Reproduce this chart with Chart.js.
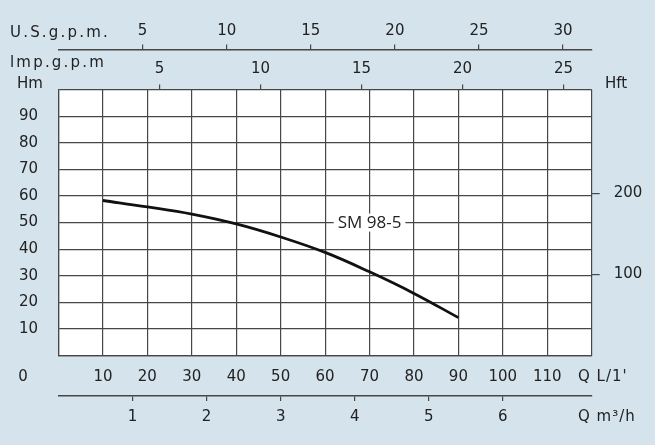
<!DOCTYPE html>
<html>
<head>
<meta charset="utf-8">
<script src="https://cdn.jsdelivr.net/npm/chart.js@4"></script>
<style>
  html, body { margin: 0; padding: 0; background: #d5e3ed; }
  #wrap { width: 655px; height: 445px; }
</style>
</head>
<body>
<div id="wrap"><canvas id="pumpChart" width="655" height="445"></canvas></div>
<script>
// pump curve
const flowLpm = [10, 20, 30, 40, 50, 60, 70, 80, 90];
const headM = [58.3, 55.9, 53.2, 49.5, 44.6, 38.8, 31.5, 23.4, 14.3];
const curveName = 'SM 98-5';

// axis tick labels
const lpmTicks = [10, 20, 30, 40, 50, 60, 70, 80, 90, 100, 110];
const hmTicks = [10, 20, 30, 40, 50, 60, 70, 80, 90];
const usGpmTicks = [5, 10, 15, 20, 25, 30];
const impGpmTicks = [5, 10, 15, 20, 25];
const m3hTicks = [1, 2, 3, 4, 5, 6];
const hftTicks = [100, 200];

const LPM_MAX = 120;
const HM_MAX = 100;
const LPM_PER_USGPM = 3.78541;
const LPM_PER_IMPGPM = 4.54609;
const LPM_PER_M3H = 1000 / 60;
const FT_PER_M = 3.28084;

const ink = '#222';
const gridColor = '#474747';
const tickFont = { family: 'DejaVu Sans', size: 15 };

const setHeight = h => scale => { scale.height = h; };
const setWidth = w => scale => { scale.width = w; };
const useTicks = list => scale => { scale.ticks = list.map(v => ({ value: v })); };

const sideAxis = (extra) => Object.assign({
    type: 'linear',
    ticks: { color: ink, font: tickFont, maxRotation: 0, autoSkip: false },
    grid: { drawOnChartArea: false, color: gridColor, lineWidth: 1.2, tickLength: 5 },
    border: { display: false }
}, extra);

const sheetText = {
    id: 'sheetText',
    beforeDraw(chart) {
        const { ctx, chartArea: a } = chart;
        ctx.save();
        ctx.fillStyle = '#fff';
        ctx.fillRect(a.left, a.top, a.right - a.left, a.bottom - a.top);
        ctx.restore();
    },
    afterDatasetsDraw(chart) {
        const { ctx, chartArea: a, scales } = chart;
        ctx.save();
        ctx.fillStyle = ink;
        ctx.textBaseline = 'middle';

        const put = (txt, x, y, font, spacing, align) => {
            ctx.font = font;
            ctx.letterSpacing = (spacing || 0) + 'px';
            ctx.textAlign = align || 'left';
            ctx.fillText(txt, x, y);
        };

        put('U.S.g.p.m.', 10, scales.us.bottom - 16.5, '15px "DejaVu Sans"', 2.2);
        put('lmp.g.p.m', 10, scales.imp.bottom - 26.5, '15px "DejaVu Sans"', 2.2);
        put('Hm', 17, a.top - 5, '15px "DejaVu Sans"', 0);
        put('Hft', 605, a.top - 5, '15px "DejaVu Sans"', 0);
        put('0', 23, a.bottom + 21, '15px "DejaVu Sans"', 0, 'center');
        put("Q L/1'", 578, a.bottom + 21, '15px "DejaVu Sans"', 1);
        put('Q m\u00b3/h', 578, scales.m3h.top + 21.5, '15px "DejaVu Sans"', 1);

        // curve name sits on the 50 m line with a white patch behind it
        const cx = scales.x.getPixelForValue(70);
        const cy = scales.y.getPixelForValue(50);
        ctx.font = '17px "Open Sans"';
        ctx.letterSpacing = '0px';
        const w = ctx.measureText(curveName).width;
        ctx.fillStyle = '#fff';
        ctx.fillRect(cx - w / 2 - 4, cy - 9, w + 8, 18);
        ctx.fillStyle = ink;
        ctx.textAlign = 'center';
        ctx.fillText(curveName, cx, cy + 1);
        ctx.restore();
    }
};

new Chart(document.getElementById('pumpChart'), {
    type: 'line',
    data: {
        datasets: [{
            label: curveName,
            data: flowLpm.map((q, i) => ({ x: q, y: headM[i] })),
            borderColor: '#111',
            borderWidth: 2.8,
            pointRadius: 0,
            fill: false,
            tension: 0.4,
            xAxisID: 'x',
            yAxisID: 'y'
        }]
    },
    options: {
        responsive: false,
        animation: false,
        layout: { padding: 0 },
        plugins: { legend: { display: false }, tooltip: { enabled: false } },
        scales: {
            x: {
                type: 'linear', position: 'bottom', weight: 0,
                min: 0, max: LPM_MAX,
                ticks: {
                    stepSize: 10, padding: 12, color: ink, font: tickFont,
                    maxRotation: 0, autoSkip: false,
                    callback: v => lpmTicks.includes(v) ? String(v) : ''
                },
                grid: { color: gridColor, lineWidth: 1.2, drawTicks: false },
                border: { color: gridColor, width: 1.2 },
                afterFit: setHeight(40.3)
            },
            m3h: sideAxis({
                position: 'bottom', weight: 1,
                min: 0, max: LPM_MAX / LPM_PER_M3H,
                afterBuildTicks: useTicks(m3hTicks),
                ticks: { color: ink, font: tickFont, padding: 7.3, maxRotation: 0, autoSkip: false },
                border: { display: true, color: gridColor, width: 1.6 },
                afterFit: setHeight(49)
            }),
            y: {
                type: 'linear', position: 'left',
                min: 0, max: HM_MAX,
                ticks: {
                    stepSize: 10, padding: 20.5, color: ink, font: tickFont,
                    callback: v => hmTicks.includes(v) ? String(v) : ''
                },
                grid: { color: gridColor, lineWidth: 1.2, drawTicks: false },
                border: { color: gridColor, width: 1.2 },
                afterFit: setWidth(58.5)
            },
            hft: sideAxis({
                position: 'right',
                min: 0, max: HM_MAX * FT_PER_M,
                afterBuildTicks: useTicks(hftTicks),
                ticks: { color: ink, font: tickFont, padding: 14 },
                grid: { drawOnChartArea: false, color: gridColor, lineWidth: 1.2, tickLength: 8 },
                afterFit: setWidth(63.3)
            }),
            imp: sideAxis({
                position: 'top', weight: 0,
                min: 0, max: LPM_MAX / LPM_PER_IMPGPM,
                afterBuildTicks: useTicks(impGpmTicks),
                ticks: { color: ink, font: tickFont, padding: 6.2, maxRotation: 0, autoSkip: false },
                afterFit: setHeight(40)
            }),
            us: sideAxis({
                position: 'top', weight: 1,
                min: 0, max: LPM_MAX / LPM_PER_USGPM,
                afterBuildTicks: useTicks(usGpmTicks),
                ticks: { color: ink, font: tickFont, padding: 4.5, maxRotation: 0, autoSkip: false },
                border: { display: true, color: gridColor, width: 1.6 },
                afterFit: setHeight(49.5)
            })
        }
    },
    plugins: [sheetText]
});
</script>
</body>
</html>
